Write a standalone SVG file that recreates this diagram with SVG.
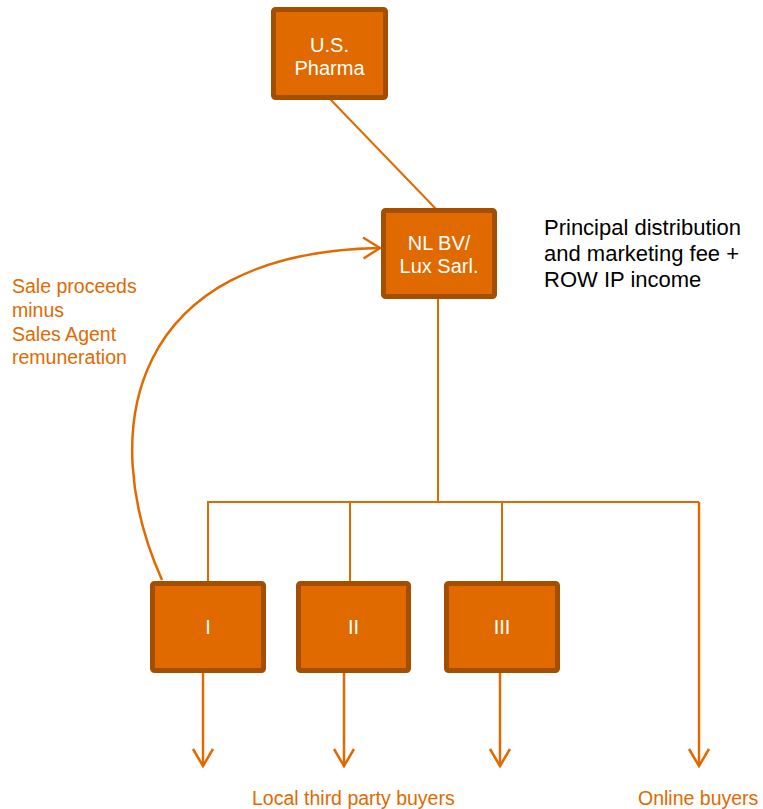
<svg xmlns="http://www.w3.org/2000/svg" width="763" height="809" viewBox="0 0 763 809">
<style>
.box{fill:#E06A00;stroke:#A44F00;stroke-width:5}
.bt{font-family:"Liberation Sans",Arial,sans-serif;font-size:20px;fill:#ffffff;text-anchor:middle}
.ln{fill:none;stroke:#E06A00;stroke-width:2}
.ar{fill:none;stroke:#E06A00;stroke-width:2.5}
.hd{fill:none;stroke:#E06A00;stroke-width:2.5;stroke-linejoin:miter}
.ol{font-family:"Liberation Sans",Arial,sans-serif;font-size:19.5px;fill:#E06A00}
.bl{font-family:"Liberation Sans",Arial,sans-serif;font-size:22px;fill:#000000}
</style>
<g id="connectors">
<line class="ln" x1="330" y1="99" x2="436" y2="209"/>
<line class="ln" x1="438" y1="298" x2="438" y2="502"/>
<polyline class="ln" points="208,583 208,502 699,502"/>
<line class="ln" x1="350" y1="502" x2="350" y2="583"/>
<line class="ln" x1="502" y1="502" x2="502" y2="583"/>
<line class="ar" x1="699" y1="502" x2="699" y2="766"/>
<path class="hd" d="M689,749 L699,766 L709,749"/>
<line class="ar" x1="203" y1="672" x2="203" y2="766"/>
<path class="hd" d="M193,749 L203,766 L213,749"/>
<line class="ar" x1="344" y1="672" x2="344" y2="766"/>
<path class="hd" d="M334,749 L344,766 L354,749"/>
<line class="ar" x1="500" y1="672" x2="500" y2="766"/>
<path class="hd" d="M490,749 L500,766 L510,749"/>
<path class="ar" d="M162,580 C95,430 130,252 380,248"/>
<path class="hd" d="M363,237.5 L380,248 L363.5,258.5"/>
</g>
<g id="us-pharma">
<rect class="box" x="273.5" y="9.5" width="112" height="88" rx="2"/>
<text class="bt" x="329.5" y="52">U.S.</text>
<text class="bt" x="329.5" y="75">Pharma</text>
</g>
<g id="nl-bv">
<rect class="box" x="383.5" y="210.5" width="111" height="86" rx="2"/>
<text class="bt" x="439" y="250">NL BV/</text>
<text class="bt" x="439" y="273">Lux Sarl.</text>
</g>
<g id="box-i">
<rect class="box" x="152.5" y="583.5" width="111" height="87" rx="2"/>
<text class="bt" x="208" y="634">I</text>
</g>
<g id="box-ii">
<rect class="box" x="298.5" y="583.5" width="110" height="87" rx="2"/>
<text class="bt" x="353.5" y="634">II</text>
</g>
<g id="box-iii">
<rect class="box" x="446.5" y="583.5" width="111" height="87" rx="2"/>
<text class="bt" x="502" y="634">III</text>
</g>
<g id="labels">
<text class="ol" x="12" y="293">Sale proceeds</text>
<text class="ol" x="12" y="317">minus</text>
<text class="ol" x="12" y="341">Sales Agent</text>
<text class="ol" x="12" y="364">remuneration</text>
<text class="bl" x="544" y="235">Principal distribution</text>
<text class="bl" x="544" y="261">and marketing fee +</text>
<text class="bl" x="544" y="287">ROW IP income</text>
<text class="ol" x="252" y="805">Local third party buyers</text>
<text class="ol" x="638" y="805">Online buyers</text>
</g>
</svg>
